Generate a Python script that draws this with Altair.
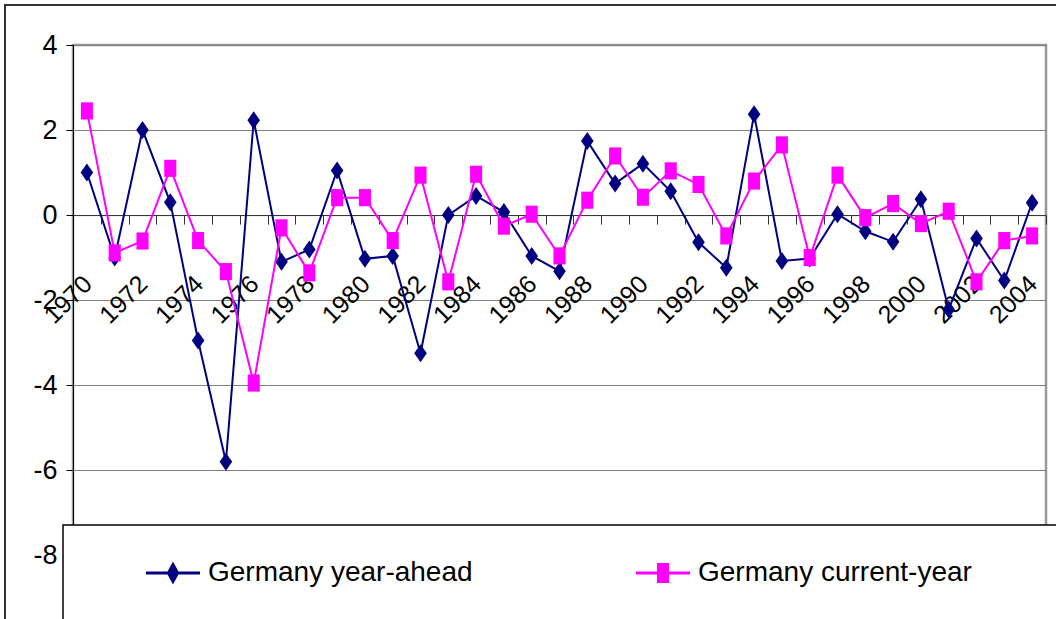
import altair as alt
import pandas as pd

# Germany forecast errors, 1970-2004
years = list(range(1970, 2005))
year_ahead = [1.0, -1.0, 2.0, 0.3, -2.95, -5.8, 2.23, -1.1, -0.81, 1.05,
              -1.03, -0.96, -3.25, 0.0, 0.45, 0.07, -0.96, -1.32, 1.74, 0.74,
              1.21, 0.56, -0.64, -1.24, 2.37, -1.08, -1.02, 0.02, -0.38, -0.63,
              0.37, -2.22, -0.55, -1.54, 0.29]
current_year = [2.45, -0.89, -0.61, 1.1, -0.6, -1.33, -3.95, -0.3, -1.36, 0.41,
                0.41, -0.6, 0.94, -1.57, 0.96, -0.26, 0.02, -0.96, 0.35, 1.39,
                0.42, 1.04, 0.72, -0.49, 0.8, 1.65, -1.0, 0.94, -0.06, 0.27,
                -0.2, 0.09, -1.57, -0.6, -0.49]

series_names = ["Germany year-ahead", "Germany current-year"]
series_colors = ["#000080", "#FF00FF"]

y_ticks = [-8, -6, -4, -2, 0, 2, 4]
y_domain = [-9.5, 4]
x_domain = [1969.5, 2004.5]
# tick marks sit between years, labels on every second year
x_ticks = [y - 0.5 for y in years] + [years[-1] + 0.5] + years[::2]

FONT = "Liberation Sans, Arial, sans-serif"
W, H = 973, 574

df = pd.DataFrame({
    "year": years * 2,
    "value": year_ahead + current_year,
    "series": [series_names[0]] * len(years) + [series_names[1]] * len(years),
})

# marker paths (tall diamond / tall square)
DIAMOND = "M0,-1L0.7,0L0,1L-0.7,0Z"
SQUARE = "M-0.67,-0.95H0.67V0.95H-0.67Z"
# legend symbols: short line with the marker in the middle
LEG_DIAMOND = "M-1,-0.055H1V0.055H-1Z M0,-0.426L0.233,0L0,0.426L-0.233,0Z"
LEG_SQUARE = "M-1,-0.055H1V0.055H-1Z M-0.222,-0.37H0.222V0.37H-0.222Z"

zero_px = H * (y_domain[1] - 0) / (y_domain[1] - y_domain[0])

x_axis = alt.Axis(
    values=x_ticks, orient="bottom", offset=-(H - zero_px), title=None,
    grid=False, domainColor="#333333", domainWidth=1,
    tickColor="#333333", tickSize=9, tickWidth=1,
    tickOpacity={"condition": {"test": "datum.value % 1 === 0", "value": 0}, "value": 1},
    labelExpr="datum.value % 2 === 0 ? toString(datum.value) : ''",
    labelAngle=315, labelAlign="right", labelBaseline="top",
    labelPadding=47, labelOffset=-8, labelFont=FONT, labelFontSize=25,
    labelColor="#000000", labelOverlap=alt.ExprRef("false"), labelFlush=False,
)
y_axis = alt.Axis(
    values=y_ticks, title=None, grid=True, gridColor="#808080", gridWidth=1,
    domainColor="#000000", domainWidth=1, tickColor="#000000", tickSize=7,
    labelExpr="toString(datum.value)",
    labelPadding=9, labelFont=FONT, labelFontSize=27, labelColor="#000000",
)

X = alt.X("year:Q", scale=alt.Scale(domain=x_domain, nice=False, zero=False), axis=x_axis)
Y = alt.Y("value:Q", scale=alt.Scale(domain=y_domain, nice=False, zero=False), axis=y_axis)

base = alt.Chart(df).encode(x=X, y=Y)

frame = alt.Chart(pd.DataFrame({"k": [0]})).mark_rect(
    fill="transparent", stroke="#333333", strokeWidth=2
).encode(x=alt.value(-68), x2=alt.value(1200), y=alt.value(-40), y2=alt.value(800))

layers = [frame]
for name, color, shape in zip(series_names, series_colors, [DIAMOND, SQUARE]):
    sub = base.transform_filter(alt.datum.series == name)
    layers.append(sub.mark_line(color=color, strokeWidth=2))
    layers.append(sub.mark_point(shape=shape, filled=True, size=324, color=color,
                                 opacity=1, strokeWidth=0))

legend_box = alt.Chart(pd.DataFrame({"k": [0]})).mark_rect(
    fill="#FFFFFF", stroke="#000000", strokeWidth=1.5
).encode(x=alt.value(-10), x2=alt.value(1200), y=alt.value(480), y2=alt.value(800))
layers.append(legend_box)

legend_layer = base.transform_filter("false").mark_point(filled=True, opacity=1).encode(
    color=alt.Color("series:N", scale=alt.Scale(domain=series_names, range=series_colors),
                    legend=alt.Legend(
                        orient="none", legendX=73, legendY=501, direction="horizontal",
                        title=None, padding=0, labelFont=FONT, labelFontSize=28,
                        labelColor="#000000", labelLimit=600, symbolSize=2916,
                        symbolStrokeWidth=0, labelOffset=8, columnPadding=163)),
    shape=alt.Shape("series:N", scale=alt.Scale(domain=series_names,
                                                range=[LEG_DIAMOND, LEG_SQUARE])),
)
layers.append(legend_layer)

chart = alt.layer(*layers).properties(
    width=W, height=H,
    autosize=alt.AutoSizeParams(type="none"),
    padding={"left": 73, "top": 45, "right": 10, "bottom": 0},
    background="#FFFFFF",
).configure_view(stroke="#999999", strokeWidth=2.5)

chart.save("out.html", embed_options={"renderer": "svg", "actions": False})
